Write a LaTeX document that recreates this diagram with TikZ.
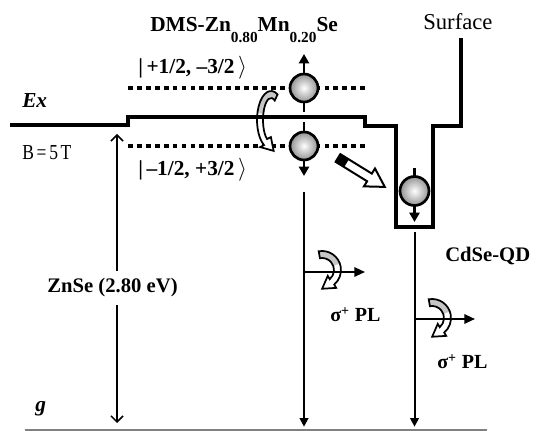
\documentclass[tikz,border=0pt]{standalone}
\usepackage{fontspec}
\setmainfont{Liberation Serif}
\usetikzlibrary{arrows.meta,calc}

% curly hollow arrow: cx cy rxo ryo rxi ryi t0 te tg
\newcommand{\curlyarr}[9]{%
  \pgfmathsetmacro\cdir{sign(#8-#7)}%
  \pgfmathsetmacro\cfa{#8+10*\cdir}%
  \pgfmathsetmacro\cnin{90*\cdir}%
  \pgfmathsetmacro\cnout{-90*\cdir}%
  \pgfmathsetmacro\crxm{(#3+#5)/2}%
  \pgfmathsetmacro\crym{(#4+#6)/2}%
  \coordinate (cE) at ({#1+\crxm*cos(#8)},{#2+\crym*sin(#8)});
  \coordinate (cF) at ({#1+\crxm*cos(\cfa)},{#2+\crym*sin(\cfa)});
  \coordinate (cT) at ($(cE)!9pt!(cF)$);
  \coordinate (cBi) at ($(cE)!5.5pt!\cnin:(cF)$);
  \coordinate (cBo) at ($(cE)!5.5pt!\cnout:(cF)$);
  \coordinate (cO0) at ({#1+#3*cos(#7)},{#2+#4*sin(#7)});
  \coordinate (cIe) at ({#1+#5*cos(#8)},{#2+#6*sin(#8)});
  \coordinate (cIg) at ({#1+#5*cos(#9)},{#2+#6*sin(#9)});
  \path[fill=white] (cO0) arc[start angle=#7,end angle=#8,x radius=#3,y radius=#4]
     -- (cBo) -- (cT) -- (cBi) -- (cIe)
     arc[start angle=#8,end angle=#7,x radius=#5,y radius=#6] -- cycle;
  \path[fill=gray!45] (cO0) arc[start angle=#7,end angle=#9,x radius=#3,y radius=#4]
     -- (cIg) arc[start angle=#9,end angle=#7,x radius=#5,y radius=#6] -- cycle;
  \draw[line width=1.3pt, line join=miter] (cO0) arc[start angle=#7,end angle=#8,x radius=#3,y radius=#4]
     -- (cBo) -- (cT) -- (cBi) -- (cIe)
     arc[start angle=#8,end angle=#7,x radius=#5,y radius=#6] -- cycle;
}

\begin{document}
\begin{tikzpicture}[x=0.75pt,y=0.75pt,
  lbl/.style={inner sep=0pt, anchor=base west},
  band/.style={line width=2.3pt, line join=miter},
  lvl/.style={line width=3pt, dash pattern=on 3.6pt off 3.1pt},
  vl/.style={line width=1.5pt},
  ftip/.style={-{Triangle[length=6.5pt,width=6.5pt]}},
  ptip/.style={-{Triangle[length=8pt,width=7pt]}},
  ball/.style={line width=2pt, inner color=white, outer color=gray!85},
  bigbf/.style={font=\fontsize{16}{19}\selectfont\bfseries}
]
\useasboundingbox (0,0) rectangle (538,431);

% ground line
\coordinate (g1) at (25,1); \coordinate (g2) at (487,1);
\draw[gray, line width=0.8pt] (g1) -- (g2);

% Zeeman levels (dotted)
\coordinate (u1) at (128,343); \coordinate (u2) at (365,343);
\coordinate (d1) at (128,285); \coordinate (d2) at (365,285);
\draw[lvl] (u1) -- (u2);
\draw[lvl] (d1) -- (d2);

% curly arrows
\curlyarr{271}{311}{14}{29}{8}{22}{62}{240}{165}
\curlyarr{322}{161}{19}{19}{12}{12}{100}{-50}{20}
\curlyarr{432}{113}{19}{19}{12}{12}{100}{-50}{20}

% band edge
\coordinate (b1) at (10,306);  \coordinate (b2) at (128,306);
\coordinate (b3) at (128,314); \coordinate (b4) at (365,314);
\coordinate (b5) at (365,305); \coordinate (b6) at (396,305);
\coordinate (b7) at (396,204); \coordinate (b8) at (433,204);
\coordinate (b9) at (433,305); \coordinate (b10) at (461,305);
\coordinate (b11) at (461,393);
\draw[band] (b1) -- (b2) -- (b3) -- (b4) -- (b5) -- (b6) -- (b7) -- (b8) -- (b9) -- (b10) -- (b11);

% ZnSe gap arrow
\coordinate (z1) at (117,8); \coordinate (z2) at (117,297);
\draw[line width=1.1pt, {Straight Barb[length=4.5pt,width=9pt]}-{Straight Barb[length=4.5pt,width=9pt]}] (z1) -- (z2);
\node[fill=white, inner xsep=1pt, inner ysep=6pt, font=\fontsize{15.5}{18}\selectfont\bfseries] (zn) at (112.5,143) {ZnSe (2.80 eV)};

% vertical transition lines
\coordinate (m1a) at (304,239); \coordinate (m1b) at (304,4.3);
\coordinate (m2a) at (414.5,199); \coordinate (m2b) at (414.5,4.3);
\draw[vl, ftip] (m1a) -- (m1b);
\draw[vl, ftip] (m2a) -- (m2b);

% PL arrows
\coordinate (p1a) at (304,159); \coordinate (p1b) at (365,159);
\coordinate (p2a) at (414.5,112); \coordinate (p2b) at (475,112);
\draw[vl, ptip] (p1a) -- (p1b);
\draw[vl, ptip] (p2a) -- (p2b);

% hollow transfer arrow
\begin{scope}[shift={(338,273)}, rotate=-31.7]
  \coordinate (h0) at (0,0);
  \draw[fill=white, line width=1.5pt, line join=miter]
    (0,4.5) -- (37,4.5) -- (37,10.5) -- (55,0) -- (37,-10.5) -- (37,-4.5) -- (0,-4.5) -- cycle;
  \fill (0,-4.5) rectangle (10,4.5);
\end{scope}

% spin arrows and carriers
\coordinate (s1a) at (304,319); \coordinate (s1b) at (304,377);
\coordinate (s2a) at (304,309); \coordinate (s2b) at (304,255);
\coordinate (s3a) at (414.5,263); \coordinate (s3b) at (414.5,209);
\draw[vl, line width=2.2pt, -{Triangle[length=7pt,width=7.5pt]}] (s1a) -- (s1b);
\draw[vl, line width=2.2pt, -{Triangle[length=7pt,width=7.5pt]}] (s2a) -- (s2b);
\draw[vl, line width=2.2pt, -{Triangle[length=7pt,width=7.5pt]}] (s3a) -- (s3b);
\coordinate (c1) at (304,343); \coordinate (c2) at (304,285); \coordinate (c3) at (414.5,240);
\shadedraw[ball] (c1) circle[radius=14];
\shadedraw[ball] (c2) circle[radius=14];
\shadedraw[ball] (c3) circle[radius=14.5];

% labels
\node[lbl, bigbf] (ttl) at (150,399) {DMS-Zn\raisebox{-8pt}{\fontsize{11.5}{12}\selectfont 0.80}Mn\raisebox{-8pt}{\fontsize{11.5}{12}\selectfont 0.20}Se};
\node[lbl, font=\fontsize{17}{20}\selectfont] (surf) at (423,401) {Surface};
\node[lbl, bigbf] (ketup) at (138,357) {|\,+1/2, –3/2\,$\rangle$};
\node[lbl, bigbf] (ketdn) at (138,255) {|\,–1/2, +3/2\,$\rangle$};
\node[lbl, font=\fontsize{16}{19}\selectfont\bfseries\itshape] (ex) at (22,323) {Ex};
\node[lbl, font=\fontsize{16}{19}\selectfont] (bf) at (22,271) {\scalebox{0.82}[1]{B\hspace{2.5pt}=\hspace{2.5pt}5\hspace{2.5pt}T}};
\node[lbl, font=\fontsize{16}{19}\selectfont\bfseries\itshape] (gg) at (35,19) {g};
\node[lbl, font=\fontsize{15.5}{18}\selectfont\bfseries] (cd) at (445,169) {CdSe-QD};
\node[lbl, font=\fontsize{15}{18}\selectfont\bfseries] (pl1) at (330,109) {σ\textsuperscript{+} PL};
\node[lbl, font=\fontsize{15}{18}\selectfont\bfseries] (pl2) at (437,62) {σ\textsuperscript{+} PL};
\end{tikzpicture}
\end{document}
